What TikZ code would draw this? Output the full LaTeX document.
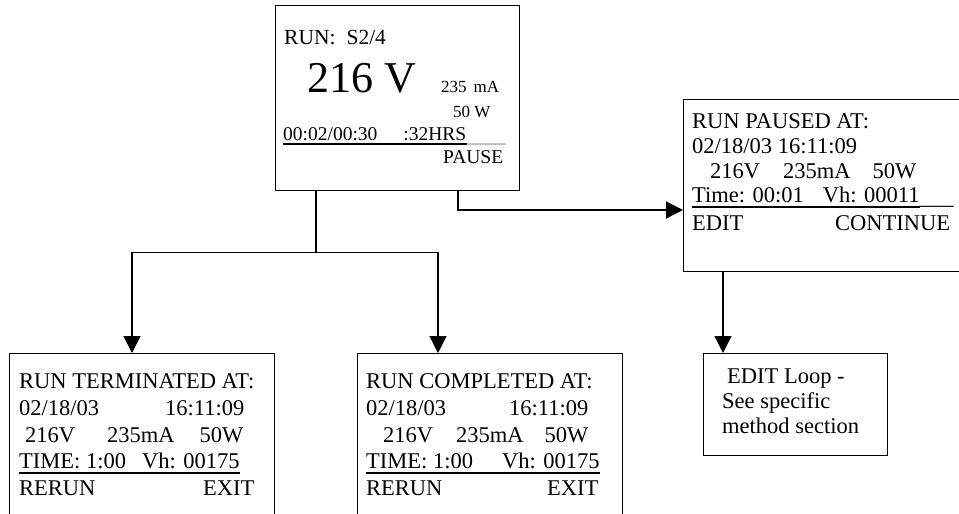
\documentclass[tikz,border=0pt]{standalone}
\usepackage{fontspec}
\setmainfont{Liberation Serif}
\usetikzlibrary{arrows.meta,positioning,calc}
\newcommand{\scrfont}{\fontsize{22.5}{27}\selectfont}
\newcommand{\topfont}{\fontsize{19.5}{23}\selectfont}
\newcommand{\runfont}{\fontsize{21.5}{26}\selectfont}
\newcommand{\voltfont}{\fontsize{44}{50}\selectfont}
\newcommand{\minifont}{\fontsize{17}{20}\selectfont}

\begin{document}
\begin{tikzpicture}[
    x=1pt, y=-1pt,
    screen/.style={draw, line width=1.4pt, anchor=north west, inner sep=0pt},
    txt/.style={anchor=base west, inner sep=0pt, font=\scrfont},
    uline/.style={line width=1.3pt},
    link/.style={line width=1.3pt},
    arrow/.style={link, -{Triangle[length=17pt,width=17pt]}}
]
\clip (0,0) rectangle (959,514);
\fill[white] (0,0) rectangle (959,514);

% Screens
\node[screen, minimum width=244pt, minimum height=185pt] (run) at (275,5) {};
\node[screen, minimum width=285pt, minimum height=172pt] (paused) at (683,99) {};
\node[screen, minimum width=265pt, minimum height=180pt] (term) at (9,353) {};
\node[screen, minimum width=265pt, minimum height=180pt] (comp) at (357,353) {};
\node[screen, minimum width=184pt, minimum height=102pt] (edit) at (703,353) {};

% Run screen
\node[txt, font=\runfont] (runHead) at (284,45) {RUN:\hspace*{11pt}S2/4};
\node[txt, font=\voltfont] (volt) at (307,92) {216 V};
\node[txt, font=\minifont] (amp) at (441,92) {235\hspace*{7pt}mA};
\node[txt, font=\minifont] (watt) at (453,117) {50 W};
\node[txt, font=\topfont] (clock) at (283,140) {00:02/00:30\hspace*{26pt}:32HRS};
\node[txt, font=\topfont, gray] (clockTail) at ([yshift=-2pt]clock.base east) {\_\_\_\_};
\draw[uline] ([yshift=-4pt]clock.base west) -- ([yshift=-4pt]clock.base east);
\node[txt, font=\topfont] (pause) at (443,163) {PAUSE};

% Paused screen
\node[txt] (pHead) at (692,128) {RUN PAUSED AT:};
\node[txt] (pDate) at (692,153) {02/18/03 16:11:09};
\node[txt] (pVals) at (710,178) {216V\hspace*{23pt}235mA\hspace*{22pt}50W};
\node[txt] (pTime) at (692,202) {Time: 00:01\hspace*{19pt}Vh: 00011};
\node[txt] (pTail) at ([yshift=-2.5pt]pTime.base east) {\_\_\_};
\draw[uline] ([yshift=-5pt]pTime.base west) -- ([yshift=-5pt]pTime.base east);
\node[txt] (pEdit) at (692,230) {EDIT};
\node[txt] (pCont) at (835,230) {CONTINUE};

% Terminated screen
\node[txt] (tHead) at (19,388) {RUN TERMINATED AT:};
\node[txt] (tDate) at (19,415) {02/18/03\hspace*{66pt}16:11:09};
\node[txt] (tVals) at (25,442) {216V\hspace*{32pt}235mA\hspace*{25pt}50W};
\node[txt] (tTime) at (19,468) {TIME: 1:00\hspace*{16pt}Vh: 00175};
\draw[uline] ([yshift=-5pt]tTime.base west) -- ([yshift=-5pt]tTime.base east);
\node[txt] (tRerun) at (19,495) {RERUN};
\node[txt] (tExit) at (203,495) {EXIT};

% Completed screen
\node[txt] (cHead) at (366,388) {RUN COMPLETED AT:};
\node[txt] (cDate) at (366,415) {02/18/03\hspace*{63pt}16:11:09};
\node[txt] (cVals) at (383,442) {216V\hspace*{23pt}235mA\hspace*{21pt}50W};
\node[txt] (cTime) at (366,468) {TIME: 1:00\hspace*{29pt}Vh: 00175};
\draw[uline] ([yshift=-5pt]cTime.base west) -- ([yshift=-5pt]cTime.base east);
\node[txt] (cRerun) at (366,495) {RERUN};
\node[txt] (cExit) at (547,495) {EXIT};

% Edit loop
\node[txt] (eLine1) at (727,383) {EDIT Loop -};
\node[txt] (eLine2) at (722,408) {See specific};
\node[txt] (eLine3) at (722,433) {method section};

% Connectors
\draw[link] ([xshift=41pt]run.south west) -- ++(0,61) coordinate (split);
\draw[arrow] (split) -| ([xshift=123pt]term.north west);
\draw[arrow] (split) -| ([xshift=81pt]comp.north west);
\draw[arrow] ([xshift=183pt]run.south west) |- ([yshift=-111pt]paused.north west);
\draw[arrow] ([xshift=40pt]paused.south west) -- ([xshift=20pt]edit.north west);
\end{tikzpicture}
\end{document}
